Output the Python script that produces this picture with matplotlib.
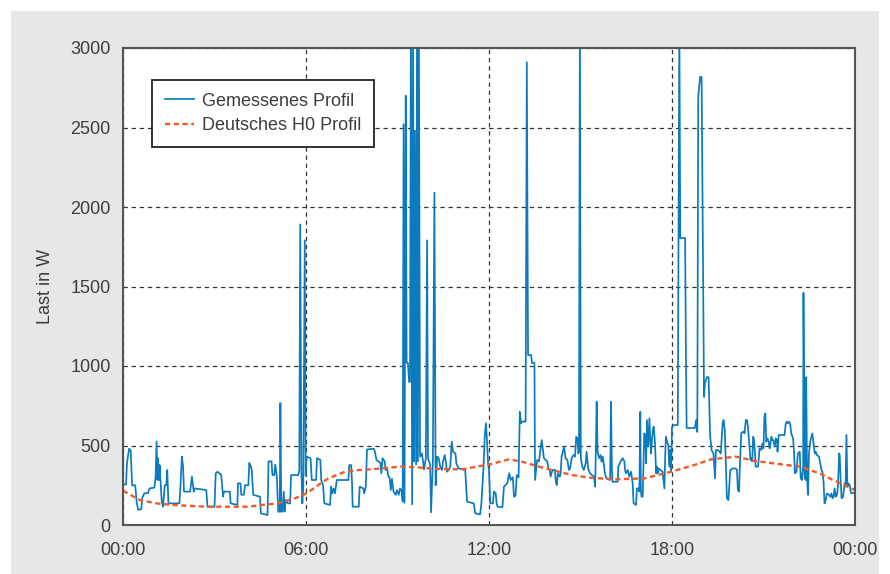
import matplotlib
matplotlib.use("Agg")
import matplotlib.pyplot as plt
from matplotlib.patches import Rectangle

# ---------------- data ----------------
# measured profile: time in hours, load in W
meas_t = [
    0.00, 0.10, 0.13, 0.20, 0.25, 0.30, 0.40, 0.45, 0.50, 0.60, 0.63, 0.70, 0.82, 0.87,
    1.03, 1.07, 1.10, 1.13, 1.15, 1.18, 1.20, 1.24, 1.27, 1.31, 1.37, 1.42, 1.45, 1.49,
    1.85, 1.88, 1.93, 1.97, 2.00, 2.20, 2.26, 2.32, 2.35, 2.73, 2.77, 3.00, 3.04, 3.10,
    3.22, 3.28, 3.31, 3.50, 3.53, 3.75, 3.77, 3.85, 3.88, 3.96,
    4.00, 4.11, 4.14, 4.19, 4.22, 4.27, 4.49, 4.52, 4.74, 4.77, 4.87, 4.90, 4.96, 4.99,
    5.04, 5.09, 5.14, 5.16, 5.19, 5.23, 5.27, 5.30, 5.33, 5.40, 5.48, 5.51, 5.75, 5.78,
    5.81, 5.85, 5.88, 5.91, 5.96, 5.99, 6.02, 6.15, 6.19, 6.33, 6.36, 6.47, 6.50, 6.56,
    6.60, 6.79, 6.82, 6.86, 6.91, 6.95, 7.01, 7.39, 7.42, 7.48, 7.51, 7.53, 7.73, 7.76,
    7.88, 7.91, 7.96,
    8.00, 8.22, 8.26, 8.31, 8.44, 8.47, 8.51, 8.58, 8.61, 8.67, 8.70, 8.74, 8.78, 8.82,
    8.87, 8.94, 8.98, 9.04, 9.08, 9.13, 9.17, 9.20, 9.23, 9.27, 9.30, 9.34, 9.38, 9.41,
    9.44, 9.48, 9.51, 9.54, 9.57, 9.61, 9.64, 9.67, 9.70, 9.74, 9.80, 9.87, 9.93, 9.97,
    10.00, 10.07, 10.10, 10.16, 10.21, 10.25, 10.30, 10.35, 10.40, 10.46, 10.49, 10.55,
    10.59, 10.62, 10.68, 10.73, 10.78, 10.82, 10.90, 10.93, 10.97, 11.00, 11.22, 11.28,
    11.50, 11.55, 11.71, 11.75, 11.82, 11.86, 11.90, 11.93, 11.97,
    12.00, 12.04, 12.13, 12.16, 12.22, 12.25, 12.28, 12.44, 12.49, 12.60, 12.66, 12.71,
    12.78, 12.82, 12.87, 12.91, 12.97, 13.01, 13.05, 13.09, 13.20, 13.24, 13.28, 13.38,
    13.41, 13.49, 13.51, 13.58, 13.64, 13.69, 13.73, 13.77, 13.80, 13.91, 13.95, 13.99,
    14.02, 14.08, 14.16, 14.19, 14.22, 14.26, 14.32, 14.35, 14.38, 14.46, 14.51, 14.57,
    14.62, 14.66, 14.71, 14.77, 14.82, 14.86, 14.90, 14.93, 14.95, 14.98, 15.01, 15.06,
    15.11, 15.17, 15.20, 15.25, 15.31, 15.44, 15.48, 15.51, 15.53, 15.56, 15.61, 15.66,
    15.69, 15.73, 15.76, 15.80, 15.85, 15.97,
    16.00, 16.03, 16.05, 16.22, 16.24, 16.31, 16.38, 16.44, 16.46, 16.49, 16.55, 16.60,
    16.66, 16.71, 16.74, 16.82, 16.85, 16.90, 16.93, 16.96, 16.98, 17.00, 17.04, 17.07,
    17.09, 17.13, 17.15, 17.18, 17.22, 17.26, 17.29, 17.31, 17.37, 17.40, 17.44, 17.48,
    17.51, 17.53, 17.56, 17.62, 17.69, 17.75, 17.78, 17.80, 17.84, 17.88, 17.91, 17.95,
    17.97,
    18.00, 18.08, 18.19, 18.24, 18.27, 18.43, 18.46, 18.48, 18.75, 18.79, 18.83, 18.86,
    18.92, 18.97, 19.00, 19.05, 19.08, 19.14, 19.20, 19.25, 19.30, 19.36, 19.41, 19.44,
    19.52, 19.60, 19.66, 19.69, 19.73, 19.77, 19.80, 19.85, 19.91,
    20.00, 20.09, 20.13, 20.16, 20.20, 20.22, 20.27, 20.33, 20.38, 20.42, 20.46, 20.49,
    20.55, 20.57, 20.60, 20.63, 20.66, 20.69, 20.72, 20.74, 20.82, 20.85, 20.87, 20.93,
    20.96, 21.00, 21.03, 21.06, 21.09, 21.13, 21.17, 21.20, 21.22, 21.26, 21.29, 21.32,
    21.37, 21.40, 21.44, 21.46, 21.50, 21.69, 21.73, 21.77, 21.80, 21.84, 21.88, 21.91,
    21.97, 22.00, 22.03, 22.08, 22.13, 22.19, 22.22, 22.26, 22.30, 22.31, 22.35, 22.38,
    22.40, 22.43, 22.46, 22.49, 22.54, 22.57, 22.60, 22.64, 22.68, 22.71, 22.75, 22.82,
    22.86, 22.90, 22.93, 22.97, 23.00, 23.04, 23.08, 23.15, 23.19, 23.23, 23.26, 23.30,
    23.33, 23.37, 23.41, 23.44, 23.48, 23.50, 23.53, 23.56, 23.61, 23.66, 23.69, 23.72,
    23.75, 23.78, 23.83, 23.85, 23.88, 24.00,
]
meas_w = [
    255, 255, 390, 480, 470, 250, 250, 140, 95, 100, 170, 200, 200, 230,
    235, 305, 525, 283, 420, 283, 377, 250, 147, 115, 250, 250, 346, 136,
    136, 230, 430, 367, 210, 210, 304, 210, 230, 220, 115, 115, 325, 335,
    315, 178, 210, 210, 136, 126, 262, 262, 190, 190,
    250, 250, 390, 370, 346, 190, 178, 73, 63, 400, 400, 314, 314, 380,
    314, 84, 84, 767, 84, 84, 210, 84, 157, 136, 136, 314, 314, 346,
    1890, 330, 136, 241, 1790, 310, 430, 420, 283, 283, 420, 410, 283, 250,
    136, 126, 241, 199, 230, 199, 283, 283, 377, 377, 262, 115, 115, 241,
    230, 199, 241,
    475, 480, 461, 409, 390, 325, 420, 400, 346, 346, 304, 300, 220, 290,
    210, 189, 220, 189, 230, 220, 147, 2520, 140, 2700, 1020, 1020, 900, 900,
    3200, 130, 3200, 400, 2480, 380, 3200, 400, 3200, 430, 450, 350, 420, 1790,
    420, 380, 80, 400, 2090, 250, 430, 420, 367, 346, 398, 440,
    390, 335, 346, 367, 524, 461, 450, 388, 370, 356, 346, 147,
    136, 73, 67, 136, 367, 555, 640, 545, 388,
    346, 136, 136, 210, 200, 136, 115, 111, 241, 262, 325, 283,
    300, 178, 185, 314, 300, 712, 640, 650, 650, 2910, 1069, 1069,
    1019, 1019, 283, 409, 400, 482, 534, 472, 420, 400, 356, 346,
    304, 346, 346, 272, 251, 325, 304, 325, 430, 493, 420, 409,
    346, 356, 420, 440, 430, 555, 545, 450, 460, 3200, 420, 367,
    346, 388, 461, 356, 325, 304, 241, 534, 775, 460, 420, 440,
    398, 430, 388, 325, 293, 283,
    775, 346, 272, 272, 367, 398, 420, 400, 346, 325, 346, 304,
    335, 262, 136, 126, 230, 230, 210, 712, 220, 178, 178, 430,
    576, 560, 388, 660, 493, 671, 524, 450, 597, 618, 524, 325,
    367, 325, 356, 346, 335, 230, 450, 555, 524, 503, 367, 472,
    335,
    618, 629, 629, 3200, 1805, 1805, 975, 610, 610, 660, 585, 2692,
    2818, 2818, 2088, 805, 890, 930, 930, 560, 470, 450, 293, 472,
    470, 450, 639, 660, 597, 346, 168, 157, 346,
    356, 356, 346, 220, 210, 346, 576, 587, 576, 660, 660, 618,
    472, 409, 420, 400, 555, 534, 450, 367, 367, 430, 482, 472,
    513, 482, 681, 702, 524, 545, 524, 482, 503, 555, 534, 534,
    493, 545, 534, 461, 566, 566, 639, 650, 639, 650, 629, 576,
    545, 461, 325, 335, 450, 461, 293, 283, 367, 1460, 304, 283,
    930, 283, 189, 450, 534, 555, 576, 513, 450, 461, 440, 430,
    388, 346, 335, 272, 136, 157, 199, 190, 178, 199, 168, 178,
    230, 178, 190, 241, 450, 440, 283, 168, 178, 262, 241, 566,
    241, 262, 250, 220, 199, 203,
]

# German H0 standard load profile
h0_t = [0.0, 0.55, 1.1, 1.64, 2.2, 2.73, 3.4, 4.1, 4.55, 5.09, 5.64, 6.02, 6.4, 6.73,
        7.28, 7.72, 8.1, 8.6, 9.09, 9.64, 10.19, 10.73, 11.17, 11.6, 12.1, 12.66,
        13.09, 13.64, 14.19, 14.73, 15.28, 16.1, 17.09, 17.97, 18.73, 19.28, 20.1,
        20.66, 21.31, 22.19, 22.84, 23.28, 23.72, 24.0]
h0_w = [216, 157, 136, 126, 120, 115, 115, 115, 126, 136, 168, 199, 251, 293,
        335, 346, 350, 358, 367, 363, 354, 350, 352, 367, 385, 413,
        398, 367, 340, 314, 298, 287, 293, 335, 377, 413, 430,
        405, 388, 367, 325, 283, 245, 220]

x_ticks = [0, 6, 12, 18, 24]
x_labels = ["00:00", "06:00", "12:00", "18:00", "00:00"]
y_ticks = [0, 500, 1000, 1500, 2000, 2500, 3000]
labels = ["Gemessenes Profil", "Deutsches H0 Profil"]

# ---------------- style ----------------
W, H = 890, 574
plt.rcParams["font.family"] = ["Liberation Sans", "DejaVu Sans"]
txt = "#3d3d3d"
blue = "#0b7bbd"
red = "#f05a28"

fig = plt.figure(figsize=(W / 100, H / 100), dpi=100)
fig.patch.set_facecolor("white")
fig.patches.append(Rectangle((11 / W, 0), (879 - 11) / W, 1 - 11 / H,
                             transform=fig.transFigure, facecolor="#e6e7e8",
                             edgecolor="none", zorder=-10))

ax = fig.add_axes([123 / W, (H - 525) / H, 732 / W, 477 / H])
ax.set_facecolor("white")

ax.plot(meas_t, meas_w, color=blue, lw=1.25, label=labels[0], zorder=3)
ax.plot(h0_t, h0_w, color=red, lw=1.7, dashes=(2.2, 1.5), label=labels[1], zorder=4)

ax.set_xlim(0, 24)
ax.set_ylim(0, 3000)
ax.set_xticks(x_ticks)
ax.set_xticklabels(x_labels)
ax.set_yticks(y_ticks)
ax.tick_params(length=0, labelsize=13, colors=txt, pad=9)
ax.tick_params(axis="x", pad=12)

ax.grid(True, color="#333333", lw=0.9, linestyle=(0, (3.5, 3)))
ax.set_axisbelow(True)
for s in ax.spines.values():
    s.set_color("#555555")
    s.set_linewidth(1.5)
    s.set_zorder(5)

fig.text(46 / W, 1 - 286.5 / H, "Last in W", rotation=90, ha="center", va="center",
         fontsize=13, color=txt)

leg = ax.legend(loc="upper left", bbox_to_anchor=(29 / 732, (525 - 80) / 477),
                borderaxespad=0, frameon=True, fancybox=False, edgecolor="#222222",
                framealpha=1, fontsize=13, handlelength=1.65, handletextpad=0.4,
                borderpad=0.7, labelspacing=0.4)
leg.get_frame().set_linewidth(1.3)
for t in leg.get_texts():
    t.set_color(txt)

fig.savefig("out.png", dpi=100, facecolor=fig.get_facecolor())
